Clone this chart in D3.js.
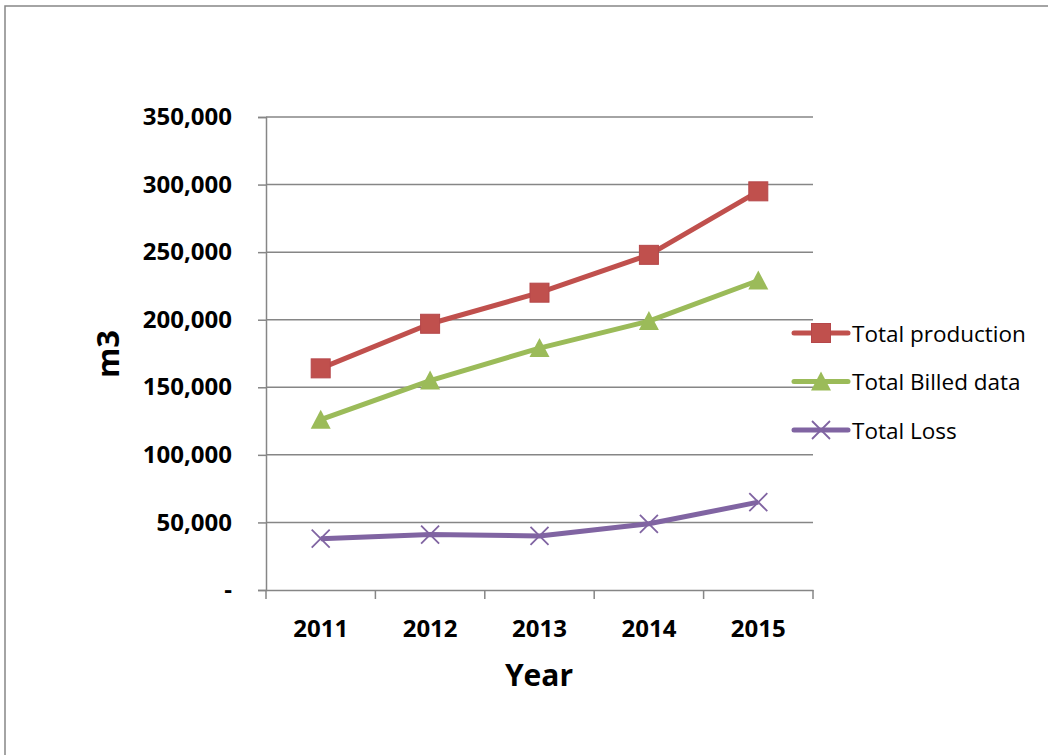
<!DOCTYPE html>
<html>
<head>
<meta charset="utf-8">
<script src="https://cdn.jsdelivr.net/npm/d3@7"></script>
<style>
  html, body { margin: 0; padding: 0; background: #fff; }
  svg { display: block; }
  .tick text { font-family: "Open Sans", sans-serif; font-weight: bold; font-size: 24px; fill: #000; }
</style>
</head>
<body>
<div id="graphicContainer"></div>
<script>
var years = ["2011", "2012", "2013", "2014", "2015"];
var totalProduction = [164000, 197000, 220000, 248000, 295000];
var totalBilled = [126000, 155000, 179000, 199000, 229000];
var totalLoss = [38000, 41000, 40000, 49000, 65000];
var yTicks = [0, 50000, 100000, 150000, 200000, 250000, 300000, 350000];
var seriesNames = ["Total production", "Total Billed data", "Total Loss"];

var width = 1048, height = 755;
var margin = { top: 117, right: 235, bottom: 165, left: 266 };
var innerW = width - margin.left - margin.right;
var innerH = height - margin.top - margin.bottom;

var svg = d3.select("#graphicContainer").append("svg")
  .attr("width", width).attr("height", height);

// outer frame
svg.append("path").attr("d", "M5,755V6H1048")
  .attr("fill", "none").attr("stroke", "#868686").attr("stroke-width", 1.5);

var features = svg.append("g").attr("transform", "translate(" + margin.left + "," + margin.top + ")");

var x = d3.scaleBand().domain(years).range([0, innerW]);
var y = d3.scaleLinear().domain([0, 350000]).range([innerH, 0]);

// gridlines
features.selectAll(".grid").data(yTicks.slice(1)).enter().append("line")
  .attr("class", "grid")
  .attr("x1", 0).attr("x2", innerW)
  .attr("y1", function (d) { return y(d); }).attr("y2", function (d) { return y(d); })
  .attr("stroke", "#868686").attr("stroke-width", 1.5);

var yAxis = d3.axisLeft(y).tickValues(yTicks).tickSize(8).tickPadding(26)
  .tickFormat(function (d) { return d === 0 ? "-" : d3.format(",")(d); });
var gy = features.append("g").attr("class", "y").call(yAxis);
gy.select(".domain").attr("stroke", "#868686").attr("stroke-width", 1.5);
gy.selectAll(".tick line").attr("stroke", "#868686").attr("stroke-width", 1.5);

var xAxis = d3.axisBottom(x).tickSize(0).tickPadding(30);
var gx = features.append("g").attr("class", "x").attr("transform", "translate(0," + innerH + ")").call(xAxis);
gx.select(".domain").attr("stroke", "#868686").attr("stroke-width", 1.5);
// category boundary ticks
gx.selectAll(".bound").data(years.concat(["end"])).enter().append("line")
  .attr("x1", function (d, i) { return i * x.step(); })
  .attr("x2", function (d, i) { return i * x.step(); })
  .attr("y1", 0).attr("y2", 9)
  .attr("stroke", "#868686").attr("stroke-width", 1.5);

// axis titles
svg.append("text").attr("x", 539).attr("y", 686).attr("text-anchor", "middle")
  .style("font-family", "Open Sans, sans-serif").style("font-weight", "bold").style("font-size", "30px")
  .text("Year");
svg.append("text").attr("transform", "translate(119,354) rotate(-90)").attr("text-anchor", "middle")
  .style("font-family", "Open Sans, sans-serif").style("font-weight", "bold").style("font-size", "31px")
  .text("m3");

var colors = ["#C0504D", "#9BBB59", "#8064A2"];
var allSeries = [totalProduction, totalBilled, totalLoss];
var line = d3.line()
  .x(function (d, i) { return x(years[i]) + x.bandwidth() / 2; })
  .y(function (d) { return y(d); });

function drawMarker(g, type, cx, cy, color) {
  if (type === 0) {
    g.append("rect").attr("x", cx - 9.5).attr("y", cy - 9.5).attr("width", 19).attr("height", 19)
      .attr("fill", color).attr("stroke", "#b5474a").attr("stroke-width", 1);
  } else if (type === 1) {
    g.append("path").attr("d", "M" + cx + "," + (cy - 10) + "L" + (cx + 10) + "," + (cy + 9) + "L" + (cx - 10) + "," + (cy + 9) + "Z")
      .attr("fill", color);
  } else {
    g.append("path").attr("d", "M" + (cx - 9) + "," + (cy - 9) + "L" + (cx + 9) + "," + (cy + 9) + "M" + (cx + 9) + "," + (cy - 9) + "L" + (cx - 9) + "," + (cy + 9))
      .attr("stroke", color).attr("stroke-width", 1.8).attr("fill", "none");
  }
}

allSeries.forEach(function (s, k) {
  features.append("path").datum(s).attr("d", line)
    .attr("fill", "none").attr("stroke", colors[k]).attr("stroke-width", 5)
    .attr("stroke-linejoin", "round");
  var mg = features.append("g");
  s.forEach(function (v, i) {
    drawMarker(mg, k, x(years[i]) + x.bandwidth() / 2, y(v), colors[k]);
  });
});

// legend
var legend = svg.append("g").attr("transform", "translate(792,333)");
seriesNames.forEach(function (name, k) {
  var row = legend.append("g").attr("transform", "translate(0," + (k * 48.5) + ")");
  row.append("line").attr("x1", 2).attr("x2", 56).attr("y1", 0).attr("y2", 0)
    .attr("stroke", colors[k]).attr("stroke-width", 5).attr("stroke-linecap", "round");
  drawMarker(row, k, 29, 0, colors[k]);
  row.append("text").attr("x", 60).attr("y", 8.5)
    .style("font-family", "Open Sans, sans-serif").style("font-size", "22.5px").attr("fill", "#000")
    .text(name);
});
</script>
</body>
</html>
